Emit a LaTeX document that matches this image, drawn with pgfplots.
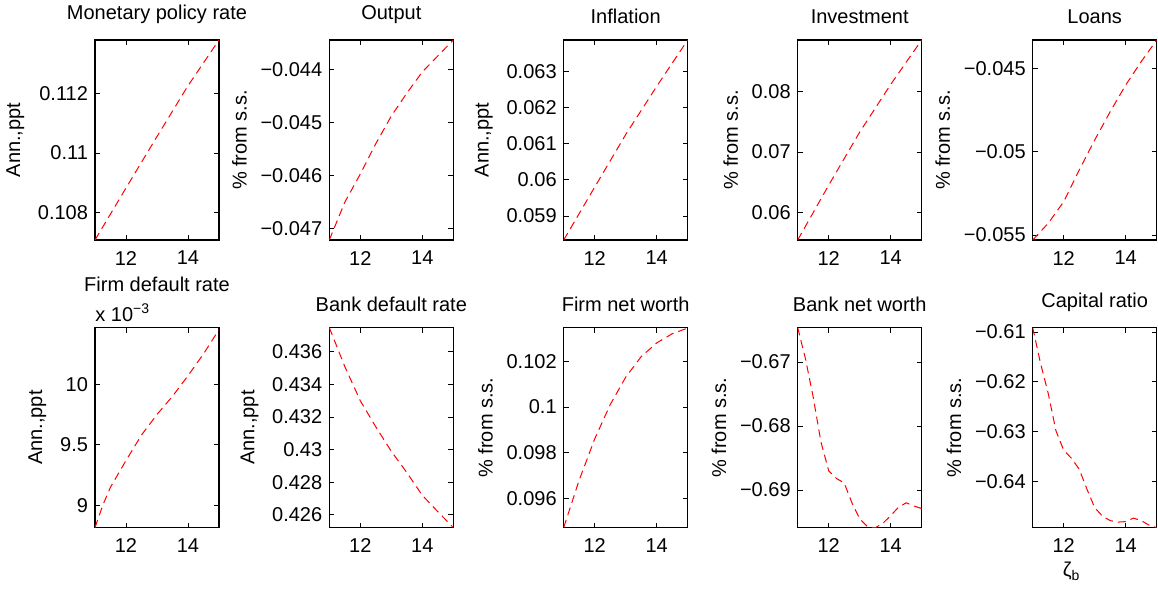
\documentclass[border=0pt]{standalone}
\usepackage{fontspec}
\setmainfont{Liberation Sans}
\usepackage{pgfplots}
\pgfplotsset{compat=1.18}

\pgfplotsset{
  panel/.style={
    scale only axis,
    width=62pt, height=100pt,
    anchor=south west,
    xmin=11, xmax=15,
    xtick={12,14}, xticklabels={12,14},
    scaled y ticks=false,
    tick align=inside,
    major tick length=2.5pt,
    axis line style={line width=0.6pt},
    every tick/.style={black, line width=0.4pt},
    xticklabel style={yshift=-2pt},
    title style={yshift=-1.5pt},
  },
  mline/.style={red, line width=0.5pt, dash pattern=on 4pt off 2.5pt},
}

\begin{document}
\begin{tikzpicture}
\path[use as bounding box] (0,0) rectangle (579pt,297pt);

% ---- top row ----
\begin{axis}[panel, at={(47.5pt,177pt)},
  title={Monetary policy rate}, ylabel={Ann.,ppt},
  ymin=0.10709, ymax=0.11378,
  ytick={0.108,0.11,0.112}, yticklabels={0.108,0.11,0.112}]
\addplot[mline] coordinates {(11,0.10709)(12,0.10883)(13,0.11055)(14,0.11225)(15,0.11378)};
\end{axis}

\begin{axis}[panel, at={(164.65pt,177pt)},
  title={Output}, ylabel={\% from s.s.},
  ymin=-0.04721, ymax=-0.04345,
  ytick={-0.047,-0.046,-0.045,-0.044}, yticklabels={−0.047,−0.046,−0.045,−0.044}]
\addplot[mline] coordinates {(11,-0.04721)(11.5,-0.0465)(12,-0.04597)(12.5,-0.0454)(13,-0.04488)
  (13.5,-0.04445)(14,-0.04405)(14.5,-0.04375)(15,-0.04345)};
\end{axis}

\begin{axis}[panel, at={(281.85pt,177pt)},
  title={Inflation}, ylabel={Ann.,ppt},
  ymin=0.05834, ymax=0.06386,
  ytick={0.059,0.06,0.061,0.062,0.063}, yticklabels={0.059,0.06,0.061,0.062,0.063}]
\addplot[mline] coordinates {(11,0.05834)(12,0.0598)(13,0.06125)(14,0.06258)(15,0.06386)};
\end{axis}

\begin{axis}[panel, at={(398.85pt,177pt)},
  title={Investment}, ylabel={\% from s.s.},
  ymin=0.05541, ymax=0.08857,
  ytick={0.06,0.07,0.08}, yticklabels={0.06,0.07,0.08}]
\addplot[mline] coordinates {(11,0.05541)(12,0.0645)(13,0.0733)(14,0.0812)(15,0.08857)};
\end{axis}

\begin{axis}[panel, at={(516.35pt,177pt)},
  title={Loans}, ylabel={\% from s.s.},
  ymin=-0.0553, ymax=-0.0433,
  ytick={-0.055,-0.05,-0.045}, yticklabels={−0.055,−0.05,−0.045}]
\addplot[mline] coordinates {(11,-0.0553)(11.5,-0.0543)(12,-0.0530)(12.5,-0.0511)(13,-0.0493)
  (13.5,-0.0476)(14,-0.0460)(14.5,-0.0446)(15,-0.0433)};
\end{axis}

% ---- bottom row ----
\begin{axis}[panel, at={(47.5pt,33.2pt)}, clip=false,
  title={Firm default rate}, title style={yshift=10pt}, ylabel={Ann.,ppt},
  ymin=8.816, ymax=10.467,
  ytick={9,9.5,10}, yticklabels={9,9.5,10}]
\addplot[mline] coordinates {(11,8.816)(11.25,9.0)(11.5,9.15)(12,9.37)(12.5,9.58)(13,9.75)
  (13.5,9.90)(14,10.07)(14.5,10.25)(15,10.45)};
\node[anchor=south west, inner sep=0pt, yshift=3pt] at (rel axis cs:0,1) {x 10\textsuperscript{−3}};
\end{axis}

\begin{axis}[panel, at={(164.65pt,33.2pt)},
  title={Bank default rate}, ylabel={Ann.,ppt},
  ymin=0.42522, ymax=0.43749,
  ytick={0.426,0.428,0.43,0.432,0.434,0.436},
  yticklabels={0.426,0.428,0.43,0.432,0.434,0.436}]
\addplot[mline] coordinates {(11,0.43749)(11.5,0.4351)(12,0.4330)(12.5,0.4314)(13,0.4299)
  (13.5,0.4286)(14,0.4272)(14.5,0.4262)(15,0.42522)};
\end{axis}

\begin{axis}[panel, at={(281.85pt,33.2pt)},
  title={Firm net worth}, ylabel={\% from s.s.},
  ymin=0.09472, ymax=0.10347,
  ytick={0.096,0.098,0.1,0.102}, yticklabels={0.096,0.098,0.1,0.102}]
\addplot[mline] coordinates {(11,0.09472)(11.5,0.0968)(12,0.0986)(12.5,0.1001)(13,0.1013)
  (13.5,0.1022)(14,0.1028)(14.5,0.1032)(15,0.10345)};
\end{axis}

\begin{axis}[panel, at={(398.85pt,33.2pt)},
  title={Bank net worth}, ylabel={\% from s.s.},
  ymin=-0.69587, ymax=-0.66464,
  ytick={-0.69,-0.68,-0.67}, yticklabels={−0.69,−0.68,−0.67}]
\addplot[mline] coordinates {(11,-0.66464)(11.25,-0.6695)(11.5,-0.6755)(11.75,-0.6825)(12,-0.6870)
  (12.25,-0.6882)(12.5,-0.6889)(12.75,-0.6920)(13,-0.6945)(13.25,-0.6957)(13.5,-0.6959)
  (13.75,-0.6952)(14,-0.6940)(14.25,-0.6927)(14.5,-0.6920)(14.75,-0.6925)(15,-0.6929)};
\end{axis}

\begin{axis}[panel, at={(516.35pt,33.2pt)},
  title={Capital ratio}, ylabel={\% from s.s.},
  xlabel={ζ\textsubscript{b}}, xlabel style={xshift=-11.5pt, yshift=2pt},
  ymin=-0.6492, ymax=-0.60912,
  ytick={-0.64,-0.63,-0.62,-0.61}, yticklabels={−0.64,−0.63,−0.62,−0.61}]
\addplot[mline] coordinates {(11,-0.60912)(11.25,-0.6162)(11.5,-0.6223)(11.75,-0.6298)(12,-0.6337)
  (12.25,-0.6353)(12.5,-0.6375)(12.75,-0.6415)(13,-0.6452)(13.25,-0.6469)(13.5,-0.6478)
  (13.75,-0.6481)(14,-0.6480)(14.25,-0.6473)(14.5,-0.6478)(14.75,-0.6487)(15,-0.6492)};
\end{axis}
\end{tikzpicture}
\end{document}
